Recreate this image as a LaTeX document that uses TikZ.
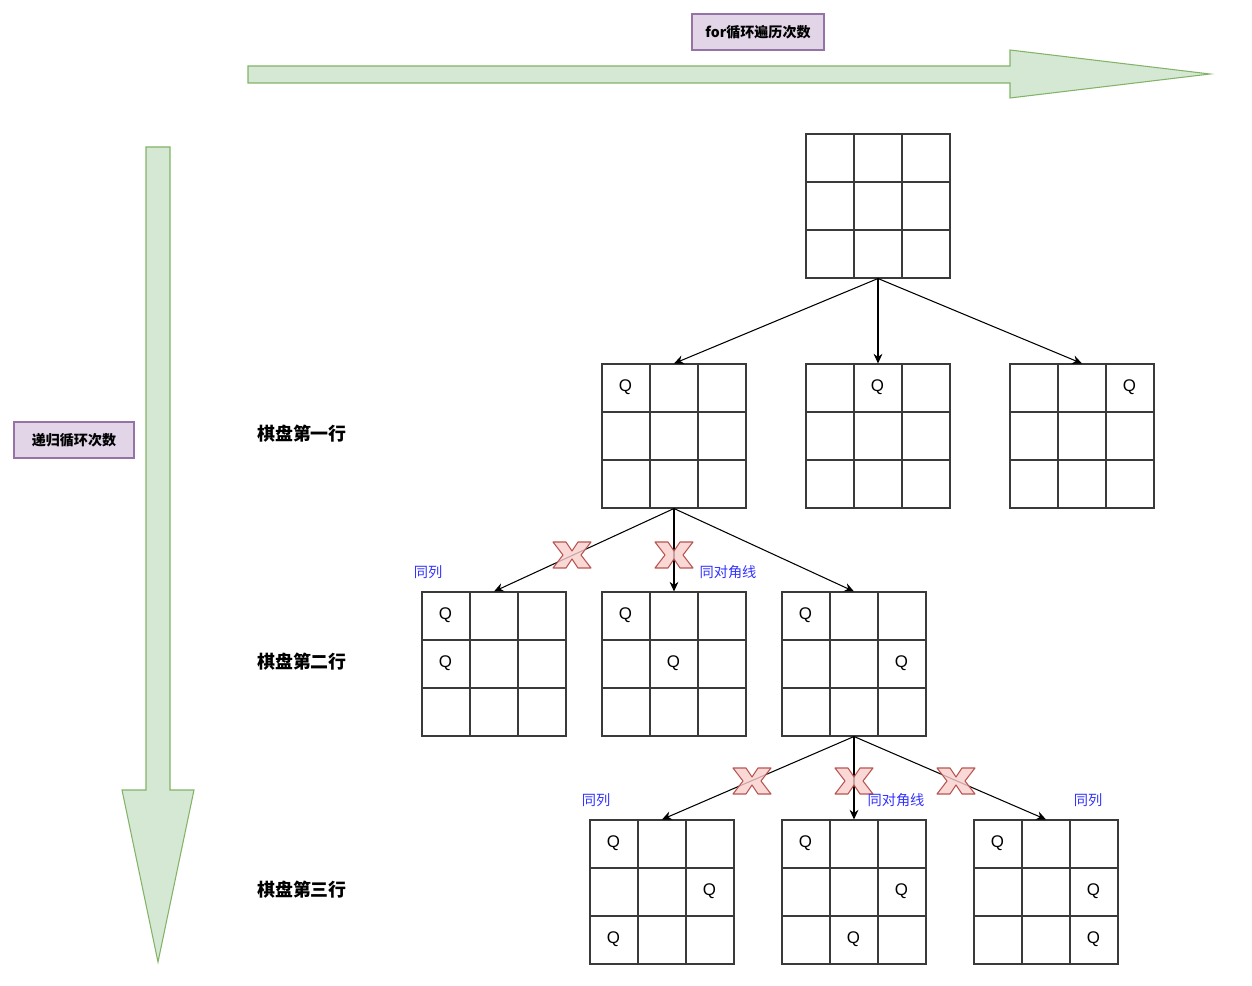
\documentclass[tikz,border=0pt]{standalone}
\usepackage{fontspec}
\setmainfont{Liberation Sans}
\newfontfamily\cjk{Noto Sans CJK SC}
\usetikzlibrary{arrows.meta,calc}

\definecolor{arrowfill}{HTML}{D5E8D4}
\definecolor{arrowline}{HTML}{82B366}
\definecolor{boxfill}{HTML}{E1D5E7}
\definecolor{boxline}{HTML}{9673A6}
\definecolor{crossfill}{HTML}{F8CECC}
\definecolor{crossline}{HTML}{B85450}
\definecolor{notecol}{RGB}{51,51,255}
\definecolor{gridcol}{HTML}{3A3A3A}

\tikzset{
  board/.style={draw=gridcol, line width=0.6pt, minimum size=2.88cm, inner sep=0pt},
  gridline/.style={draw=gridcol, line width=0.6pt},
  queen/.style={font=\fontsize{9.6}{10}\selectfont, inner sep=0pt},
  edge/.style={-{Stealth[length=5.5pt,width=5pt]}, line width=0.6pt},
  note/.style={text=notecol, font=\cjk\fontsize{8.1}{9}\selectfont, inner sep=0pt},
  rowlabel/.style={font=\cjk\bfseries\fontsize{10.2}{11}\selectfont, inner sep=0pt},
  titlebox/.style={draw=boxline, fill=boxfill, line width=0.6pt, minimum height=0.72cm, font=\cjk\bfseries\fontsize{8}{9}\selectfont},
  bigarrow/.style={draw=arrowline, fill=arrowfill, line width=0.6pt},
  cross/.style={draw=crossline, fill=crossfill, fill opacity=0.8, line width=0.6pt, line join=round}
}

% board: name, left, top (in pixels)
\newcommand{\chessboard}[3]{%
  \node[board] (#1) at (#2+72,#3+72) {};
  \foreach \k in {48,96} {
    \draw[gridline] (#2+\k,#3) -- (#2+\k,#3+144);
    \draw[gridline] (#2,#3+\k) -- (#2+144,#3+\k);
  }%
}
% queen: name, board, column, row
\newcommand{\queen}[4]{%
  \node[queen] (#1) at ($(#2.north west)+(24+48*#3,24+48*#4)$) {Q};%
}
% red cross: centre x, y
\newcommand{\redcross}[2]{%
  \draw[cross] (#1-19,#2-13) -- (#1-6,#2-13) -- (#1,#2-4) -- (#1+6,#2-13) -- (#1+19,#2-13)
    -- (#1+9,#2) -- (#1+19,#2+13) -- (#1+6,#2+13) -- (#1,#2+4) -- (#1-6,#2+13)
    -- (#1-19,#2+13) -- (#1-9,#2) -- cycle;%
}

\begin{document}
\begin{tikzpicture}[x=0.02cm, y=-0.02cm]
    \useasboundingbox (0,0) rectangle (1252,986);

    % Draw the two big arrows
    \draw[bigarrow] (248,66) -- (1010,66) -- (1010,50) -- (1210,74) -- (1010,98) -- (1010,83) -- (248,83) -- cycle;
    \draw[bigarrow] (146,147) -- (170,147) -- (170,790) -- (194,790) -- (158,962) -- (122,790) -- (146,790) -- cycle;

    % Label the arrows
    \node[titlebox, minimum width=2.64cm] (forloop) at (758,32) {for循环遍历次数};
    \node[titlebox, minimum width=2.4cm] (recursion) at (74,440) {递归循环次数};

    % Label the rows
    \node[rowlabel] (row1) at (302,434) {棋盘第一行};
    \node[rowlabel] (row2) at (302,662) {棋盘第二行};
    \node[rowlabel] (row3) at (302,890) {棋盘第三行};

    % Draw the boards
    \chessboard{top}{806}{134}
    \chessboard{r1a}{602}{364}
    \chessboard{r1b}{806}{364}
    \chessboard{r1c}{1010}{364}
    \chessboard{r2a}{422}{592}
    \chessboard{r2b}{602}{592}
    \chessboard{r2c}{782}{592}
    \chessboard{r3a}{590}{820}
    \chessboard{r3b}{782}{820}
    \chessboard{r3c}{974}{820}

    % Place the queens
    \queen{q1a}{r1a}{0}{0}
    \queen{q1b}{r1b}{1}{0}
    \queen{q1c}{r1c}{2}{0}
    \queen{q2a1}{r2a}{0}{0}
    \queen{q2a2}{r2a}{0}{1}
    \queen{q2b1}{r2b}{0}{0}
    \queen{q2b2}{r2b}{1}{1}
    \queen{q2c1}{r2c}{0}{0}
    \queen{q2c2}{r2c}{2}{1}
    \queen{q3a1}{r3a}{0}{0}
    \queen{q3a2}{r3a}{2}{1}
    \queen{q3a3}{r3a}{0}{2}
    \queen{q3b1}{r3b}{0}{0}
    \queen{q3b2}{r3b}{2}{1}
    \queen{q3b3}{r3b}{1}{2}
    \queen{q3c1}{r3c}{0}{0}
    \queen{q3c2}{r3c}{2}{1}
    \queen{q3c3}{r3c}{2}{2}

    % Draw the branches
    \draw[edge] (top.south) -- (r1a.north);
    \draw[edge] (top.south) -- (r1b.north);
    \draw[edge] (top.south) -- (r1c.north);
    \draw[edge] (r1a.south) -- (r2a.north);
    \draw[edge] (r1a.south) -- (r2b.north);
    \draw[edge] (r1a.south) -- (r2c.north);
    \draw[edge] (r2c.south) -- (r3a.north);
    \draw[edge] (r2c.south) -- (r3b.north);
    \draw[edge] (r2c.south) -- (r3c.north);

    % Draw the crosses on rejected branches
    \redcross{572}{555}
    \redcross{674}{555}
    \redcross{752}{781}
    \redcross{854}{781}
    \redcross{956}{781}

    % Reasons
    \node[note] (n1) at (428,572) {同列};
    \node[note] (n2) at (728,572) {同对角线};
    \node[note] (n3) at (596,800) {同列};
    \node[note] (n4) at (896,800) {同对角线};
    \node[note] (n5) at (1088,800) {同列};
\end{tikzpicture}
\end{document}
